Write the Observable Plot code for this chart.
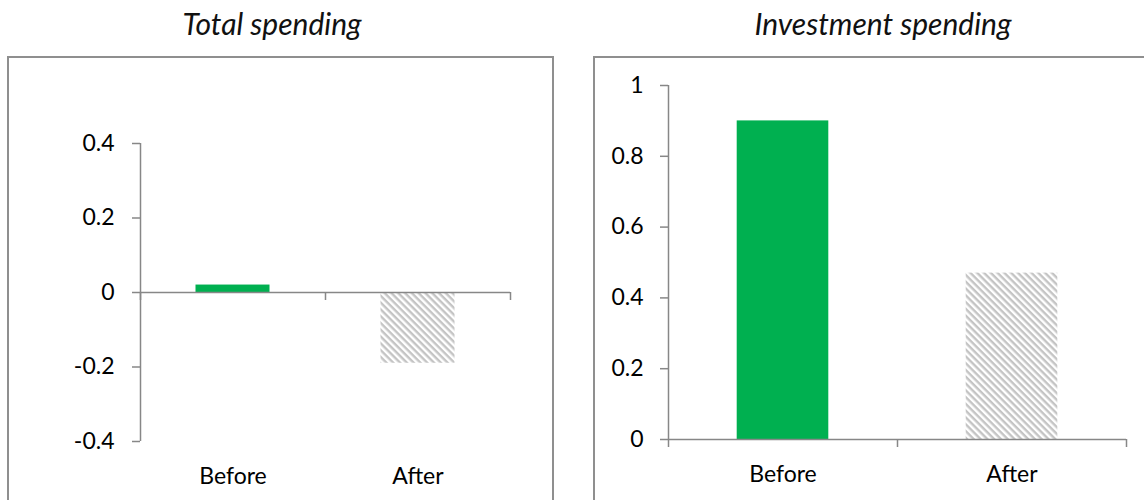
<!DOCTYPE html>
<html>
<head>
<meta charset="utf-8">
<script src="https://cdn.jsdelivr.net/npm/d3@7"></script>
<script src="https://cdn.jsdelivr.net/npm/@observablehq/plot@0.6"></script>
<style>
  html, body { margin: 0; padding: 0; background: #fff; }
  #page { position: relative; width: 1144px; height: 500px; overflow: hidden; font-family: Lato, "Open Sans", sans-serif; }
  .title { position: absolute; top: 5px; font-style: italic; font-size: 30px; line-height: 1.2; white-space: nowrap; transform: translateX(-50%); color: #111; }
  .box { position: absolute; top: 56px; height: 520px; border: 2px solid #8f8f8f; box-sizing: border-box; }
  .panel { position: absolute; top: 56px; }
</style>
</head>
<body>
<div id="page"></div>
<script>
// ---- data ----
const categories = ["Before", "After"];
const titles = ["Total spending", "Investment spending"];
const totalSpending = [0.02, -0.19];
const investmentSpending = [0.90, 0.47];
const totalTicks = [-0.4, -0.2, 0, 0.2, 0.4];
const investmentTicks = [0, 0.2, 0.4, 0.6, 0.8, 1];

// ---- styles ----
const green = "#00B050";
const axisGray = "#878787";
const barWidth = 0.4;

const page = document.getElementById("page");

function addDiv(cls, css, text) {
  const d = document.createElement("div");
  d.className = cls;
  Object.assign(d.style, css);
  if (text) d.textContent = text;
  page.appendChild(d);
  return d;
}

function makePanel(values, ticks, patternId, dims) {
  const data = categories.map((c, i) => ({category: c, i, value: values[i]}));
  const fills = [green, `url(#${patternId})`];
  const svg = Plot.plot({
    width: dims.width,
    height: dims.height,
    marginLeft: dims.marginLeft,
    marginRight: dims.marginRight,
    marginTop: dims.marginTop,
    marginBottom: dims.marginBottom,
    style: {fontFamily: "Lato, 'Open Sans', sans-serif", fontSize: "23px", color: "#000", background: "transparent", overflow: "visible"},
    x: {domain: [0, categories.length]},
    y: {domain: [ticks[0], ticks[ticks.length - 1]]},
    color: {type: "identity"},
    marks: [
      Plot.rect(data, {
        x1: d => d.i + (1 - barWidth) / 2,
        x2: d => d.i + (1 + barWidth) / 2,
        y1: 0,
        y2: "value",
        fill: d => fills[d.i]
      }),
      Plot.ruleX([0], {stroke: axisGray, strokeWidth: 1.5}),
      Plot.ruleY([0], {stroke: axisGray, strokeWidth: 1.5}),
      Plot.ruleX(d3.range(categories.length + 1), {y1: 0, y2: 0, insetBottom: -8, stroke: axisGray, strokeWidth: 1.5}),
      Plot.axisY({
        ticks,
        tickFormat: d => String(d),
        tickSize: 8,
        tickPadding: dims.tickPadding,
        stroke: axisGray,
        strokeWidth: 1.5,
        fill: "#000",
        label: null
      }),
      Plot.axisX({
        ticks: categories.map((_, i) => i + 0.5),
        tickFormat: d => categories[Math.floor(d)],
        tickSize: 0,
        tickPadding: 26,
        stroke: "none",
        fill: "#000",
        label: null
      })
    ]
  });
  // hatch pattern definition
  const ns = "http://www.w3.org/2000/svg";
  const defs = document.createElementNS(ns, "defs");
  const pat = document.createElementNS(ns, "pattern");
  pat.setAttribute("id", patternId);
  pat.setAttribute("patternUnits", "userSpaceOnUse");
  pat.setAttribute("width", "4.8");
  pat.setAttribute("height", "4.8");
  pat.setAttribute("patternTransform", "rotate(45)");
  const bg = document.createElementNS(ns, "rect");
  bg.setAttribute("width", "4.8"); bg.setAttribute("height", "4.8"); bg.setAttribute("fill", "#ffffff");
  const stripe = document.createElementNS(ns, "rect");
  stripe.setAttribute("width", "4.8"); stripe.setAttribute("height", "2.4"); stripe.setAttribute("fill", "#c4c4c4");
  pat.appendChild(bg); pat.appendChild(stripe);
  defs.appendChild(pat);
  svg.insertBefore(defs, svg.firstChild);
  svg.classList.add("panel");
  svg.style.left = dims.left + "px";
  page.appendChild(svg);
}

// titles
addDiv("title", {left: "272px"}, titles[0]);
addDiv("title", {left: "883px"}, titles[1]);

// panel boxes
addDiv("box", {left: "7px", width: "547px"});
addDiv("box", {left: "593px", width: "600px"});

makePanel(totalSpending, totalTicks, "hatchLeft", {
  left: 0, width: 572, height: 444,
  marginLeft: 140, marginRight: 62, marginTop: 87, marginBottom: 59, tickPadding: 18
});
makePanel(investmentSpending, investmentTicks, "hatchRight", {
  left: 572, width: 572, height: 444,
  marginLeft: 96, marginRight: 18, marginTop: 29, marginBottom: 61, tickPadding: 17
});
</script>
</body>
</html>
